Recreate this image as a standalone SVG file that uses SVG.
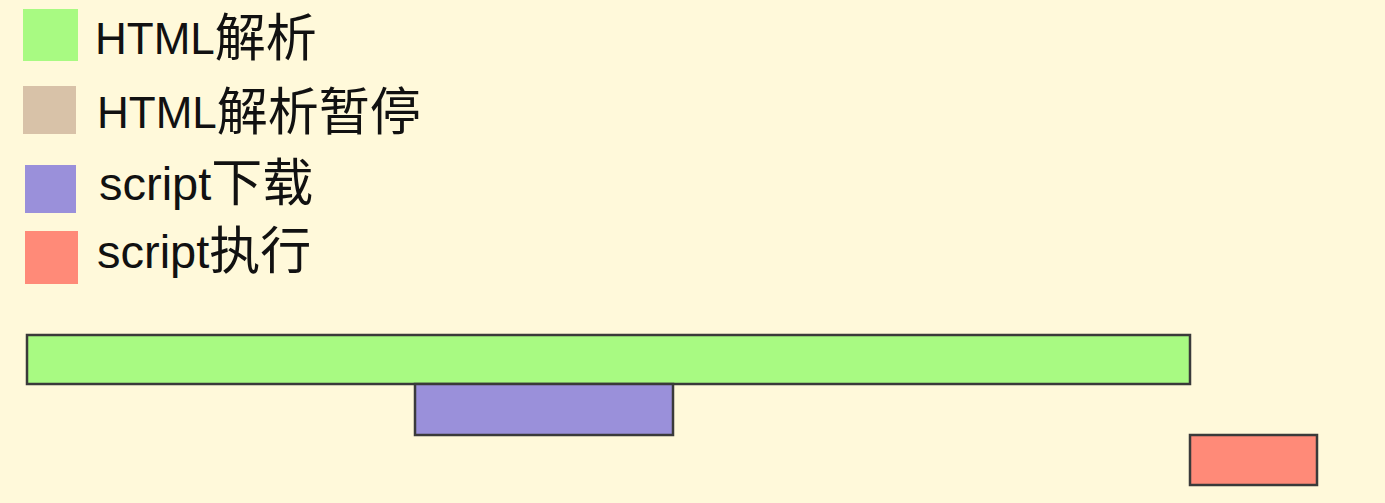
<svg xmlns="http://www.w3.org/2000/svg" width="1385" height="503" viewBox="0 0 1385 503">
<style>
.lat{font-family:"Liberation Sans",Arial,sans-serif;font-size:44px;fill:#111}
.lat2{font-size:47px}
.cjk{font-family:"Noto Sans CJK SC",sans-serif;font-size:51px}
.bar{stroke:#3a3a3a;stroke-width:2.5}
</style>
<rect width="1385" height="503" fill="#FFF9DA"/>
<g id="legend-parse">
<rect x="23" y="9" width="55" height="52" fill="#A8FA82"/>
<text class="lat" x="95" y="54">HTML<tspan class="cjk" dy="2">解析</tspan></text>
</g>
<g id="legend-pause">
<rect x="23" y="86" width="53" height="48" fill="#D8C2A8"/>
<text class="lat" x="97" y="128">HTML<tspan class="cjk" dy="2">解析暂停</tspan></text>
</g>
<g id="legend-download">
<rect x="25" y="165" width="51" height="48" fill="#9A90DA"/>
<text class="lat lat2" x="99" y="200">script<tspan class="cjk" dy="1">下载</tspan></text>
</g>
<g id="legend-exec">
<rect x="25" y="231" width="53" height="53" fill="#FF8A78"/>
<text class="lat lat2" x="97" y="268">script<tspan class="cjk" dy="1">执行</tspan></text>
</g>
<g id="bar-parse">
<rect class="bar" x="27" y="335" width="1163" height="49" fill="#A8FA82"/>
</g>
<g id="bar-download">
<rect class="bar" x="415" y="384" width="258" height="51" fill="#9A90DA"/>
</g>
<g id="bar-exec">
<rect class="bar" x="1190" y="435" width="127" height="50" fill="#FF8A78"/>
</g>
<g id="connectors"></g>
</svg>
